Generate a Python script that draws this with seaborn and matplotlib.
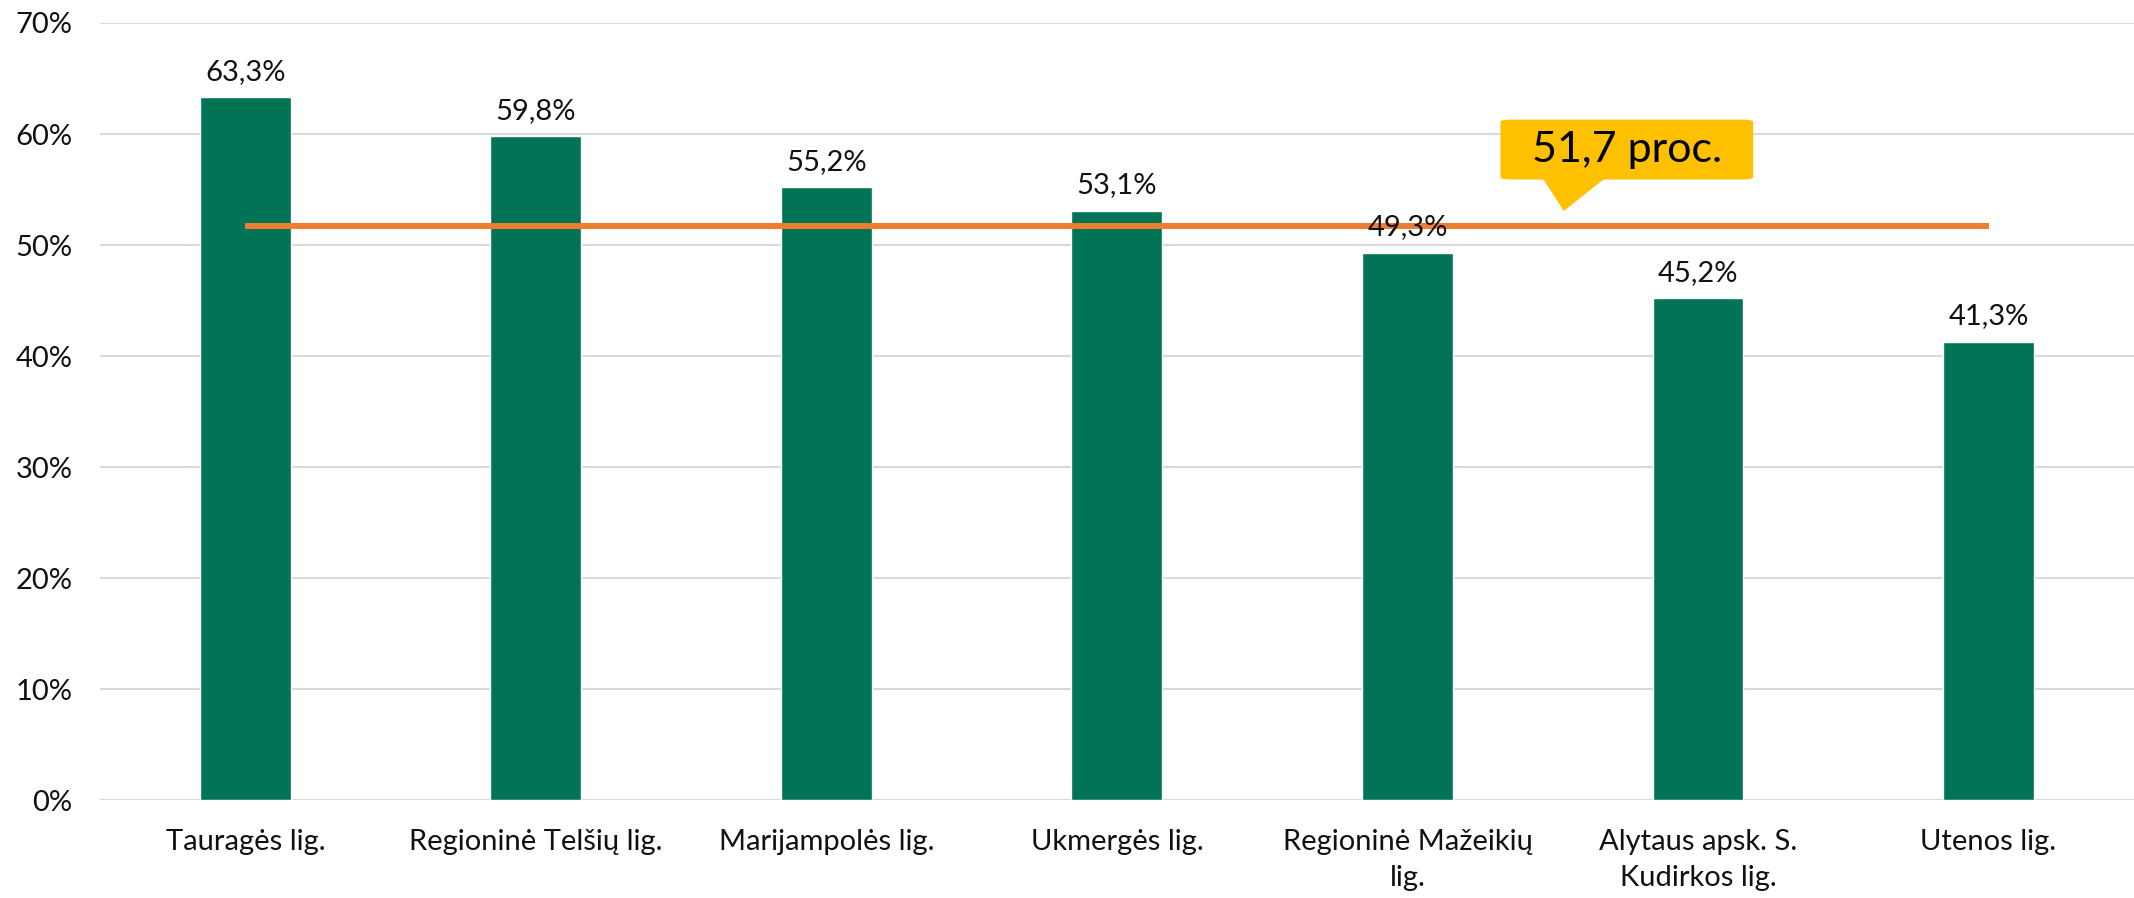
import numpy as np
import pandas as pd
import matplotlib.pyplot as plt
import seaborn as sns
from matplotlib.patches import FancyBboxPatch, Polygon

hospitals = ['Tauragės lig.', 'Regioninė Telšių lig.', 'Marijampolės lig.',
             'Ukmergės lig.', 'Regioninė Mažeikių\nlig.', 'Alytaus apsk. S.\nKudirkos lig.',
             'Utenos lig.']
shares = [63.3, 59.8, 55.2, 53.1, 49.3, 45.2, 41.3]
average = 51.7
avg_label = '51,7 proc.'

df = pd.DataFrame({'hospital': hospitals, 'share': shares})

sns.set_style('white')
plt.rcParams['font.family'] = ['Lato', 'DejaVu Sans']

fig = plt.figure(figsize=(21.34, 8.98), dpi=100)
ax = fig.add_axes([0.0469, 0.109, 0.953, 0.8654])

sns.barplot(data=df, x='hospital', y='share', color='#017456', saturation=1,
            width=0.313, ax=ax, zorder=3)

labels = [f'{v:.1f}%'.replace('.', ',') for v in shares]
texts = ax.bar_label(ax.containers[0], labels=labels, padding=9, fontsize=21,
                     color='#111111')
for t in texts:
    t.set_zorder(7)

# average line
ax.plot([0, len(hospitals) - 1], [average, average], color='#ED7D31', lw=4.3,
        zorder=4, solid_capstyle='butt')

# callout
box = FancyBboxPatch((4.32, 55.9), 0.87, 5.4,
                     boxstyle='round,pad=0,rounding_size=0.04',
                     mutation_aspect=5.5, fc='#FFC000', ec='none', zorder=5)
ax.add_patch(box)
ax.add_patch(Polygon([[4.466, 56.0], [4.679, 56.0], [4.538, 53.06]],
                     closed=True, fc='#FFC000', ec='none', zorder=5))
ax.text(4.755, 58.6, avg_label, ha='center', va='center', fontsize=31,
        color='black', zorder=6)

ax.set_ylim(0, 70)
ax.set_xlim(-0.5, len(hospitals) - 0.5)
ax.set_yticks(np.arange(0, 71, 10))
ax.set_yticklabels([f'{t}%' for t in range(0, 71, 10)])
ax.yaxis.grid(True, color='#D9D9D9', lw=1.5, zorder=0)
ax.set_axisbelow(True)
for s in ax.spines.values():
    s.set_visible(False)
ax.tick_params(axis='y', length=0, pad=20, labelsize=21, labelcolor='#111111')
ax.tick_params(axis='x', length=0, pad=21, labelsize=21, labelcolor='#111111')
for t in ax.get_xticklabels():
    t.set_linespacing(1.45)
ax.set_xlabel('')
ax.set_ylabel('')

fig.savefig('out.png', dpi=100)
